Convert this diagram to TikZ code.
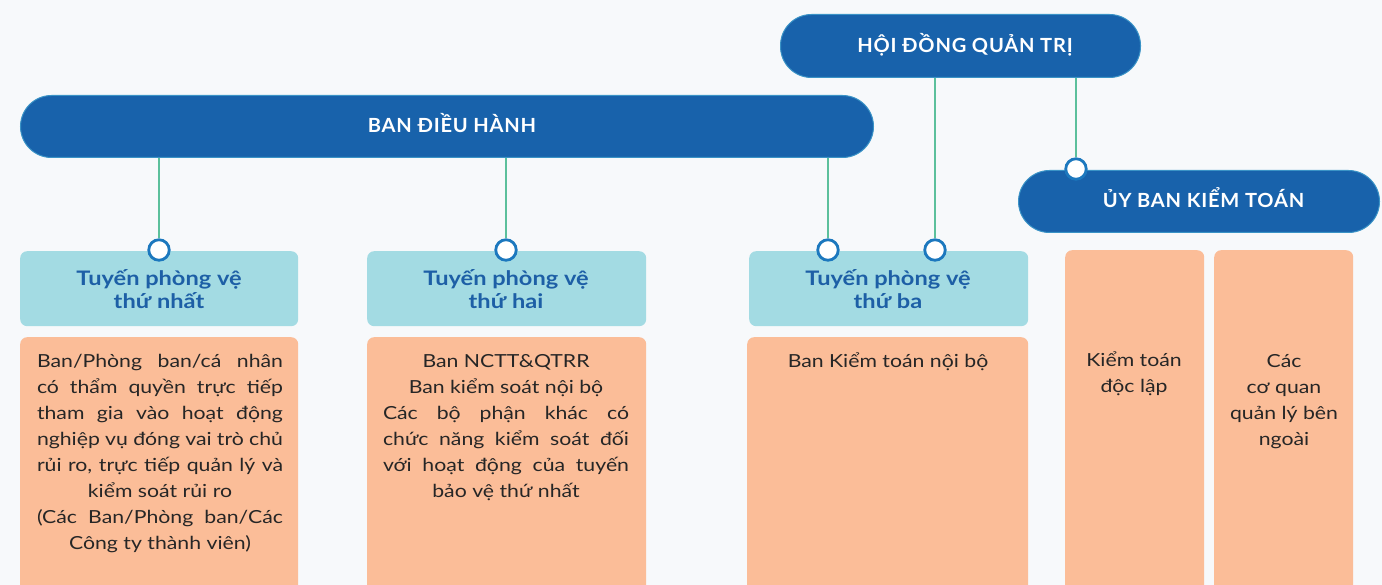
\documentclass[tikz,border=0pt]{standalone}
\usepackage{fontspec}
\setmainfont[FakeStretch=1.18]{Lato}
\newfontfamily\titlefont[LetterSpace=4,FakeStretch=1.03]{Lato}
\definecolor{bgc}{HTML}{F7F9FB}
\definecolor{pillc}{HTML}{1862AB}
\definecolor{pilledge}{HTML}{3A93C6}
\definecolor{headc}{HTML}{A3DBE3}
\definecolor{headtxt}{HTML}{1D5FA6}
\definecolor{orangec}{HTML}{FBBD98}
\definecolor{bodytxt}{HTML}{262626}
\definecolor{connc}{HTML}{5CC09C}
\definecolor{dotc}{HTML}{1C78BE}
\newcommand{\jl}[1]{\makebox[246pt][s]{#1}}
\tikzset{
  pill/.style={rounded corners=31pt, fill=pillc, draw=pilledge, line width=1pt, inner sep=0pt, anchor=north west},
  pilltext/.style={text=white, font=\titlefont\bfseries\fontsize{19.5}{22}\selectfont, anchor=base, inner sep=0pt},
  headbox/.style={rounded corners=7pt, fill=headc, inner sep=0pt, anchor=north west},
  headtext/.style={text=headtxt, font=\bfseries\fontsize{20}{23}\selectfont, align=center, anchor=base, inner sep=0pt},
  obox/.style={rounded corners=7pt, fill=orangec, inner sep=0pt, anchor=north west},
  otext/.style={text=bodytxt, font=\fontsize{18}{26}\selectfont, align=center, anchor=base, inner sep=0pt},
  conn/.style={draw=connc, line width=2.8pt},
  dot/.style={circle, fill=white, draw=dotc, line width=2.8pt, minimum size=20.5pt, inner sep=0pt}
}
\begin{document}
\begin{tikzpicture}[x=1pt,y=-1pt]
\clip (0,0) rectangle (1382,585);
\fill[bgc] (0,0) rectangle (1382,585);
% pills
\node[pill, minimum width=853pt, minimum height=62pt] (bdh) at (20,95) {};
\node[pill, minimum width=360pt, minimum height=63pt] (hdqt) at (780,14) {};
\node[pill, minimum width=361pt, minimum height=62pt] (ubkt) at (1018,170) {};
\node[pilltext] (bdht) at (452,133) {BAN ĐIỀU HÀNH};
\node[pilltext] (hdqtt) at (965,53) {HỘI ĐỒNG QUẢN TRỊ};
\node[pilltext] (ubktt) at (1203.5,208) {ỦY BAN KIỂM TOÁN};
% header boxes
\node[headbox, minimum width=278pt, minimum height=75pt] (h1) at (20,251) {};
\node[headbox, minimum width=279pt, minimum height=75pt] (h2) at (367,251) {};
\node[headbox, minimum width=279pt, minimum height=75pt] (h3) at (749,251) {};
\node[headtext] (h1t) at (159,309) {Tuyến phòng vệ\\thứ nhất};
\node[headtext] (h2t) at (506,309) {Tuyến phòng vệ\\thứ hai};
\node[headtext] (h3t) at (888,309) {Tuyến phòng vệ\\thứ ba};
% orange boxes
\node[obox, minimum width=278pt, minimum height=270pt] (o1) at (20,337) {};
\node[obox, minimum width=279pt, minimum height=270pt] (o2) at (367,337) {};
\node[obox, minimum width=281pt, minimum height=270pt] (o3) at (747,337) {};
\node[obox, minimum width=139pt, minimum height=350pt] (o4) at (1065,250) {};
\node[obox, minimum width=139pt, minimum height=350pt] (o5) at (1214,250) {};
\node[otext] (o1t) at (160,549) {\jl{Ban/Phòng ban/cá nhân}\\\jl{có thẩm quyền trực tiếp}\\\jl{tham gia vào hoạt động}\\\jl{nghiệp vụ đóng vai trò chủ}\\\jl{rủi ro, trực tiếp quản lý và}\\kiểm soát rủi ro\\\jl{(Các Ban/Phòng ban/Các}\\Công ty thành viên)};
\node[otext] (o2t) at (506,497) {Ban NCTT\&QTRR\\Ban kiểm soát nội bộ\\\jl{Các bộ phận khác có}\\\jl{chức năng kiểm soát đối}\\\jl{với hoạt động của tuyến}\\bảo vệ thứ nhất};
\node[otext] (o3t) at (888,367) {Ban Kiểm toán nội bộ};
\node[otext] (o4t) at (1134,392) {Kiểm toán\\độc lập};
\node[otext] (o5t) at (1284,445) {Các\\cơ quan\\quản lý bên\\ngoài};
% dots
\node[dot] (c1) at (159,250) {};
\node[dot] (c2) at (506,250) {};
\node[dot] (c3) at (828,250) {};
\node[dot] (c4) at (935,250) {};
\node[dot] (c5) at (1076,169) {};
% connectors
\draw[conn] (c1.north) -- (c1 |- bdh.south);
\draw[conn] (c2.north) -- (c2 |- bdh.south);
\draw[conn] (c3.north) -- (c3 |- bdh.south);
\draw[conn] (c4.north) -- (c4 |- hdqt.south);
\draw[conn] (c5.north) -- (c5 |- hdqt.south);
\end{tikzpicture}
\end{document}
